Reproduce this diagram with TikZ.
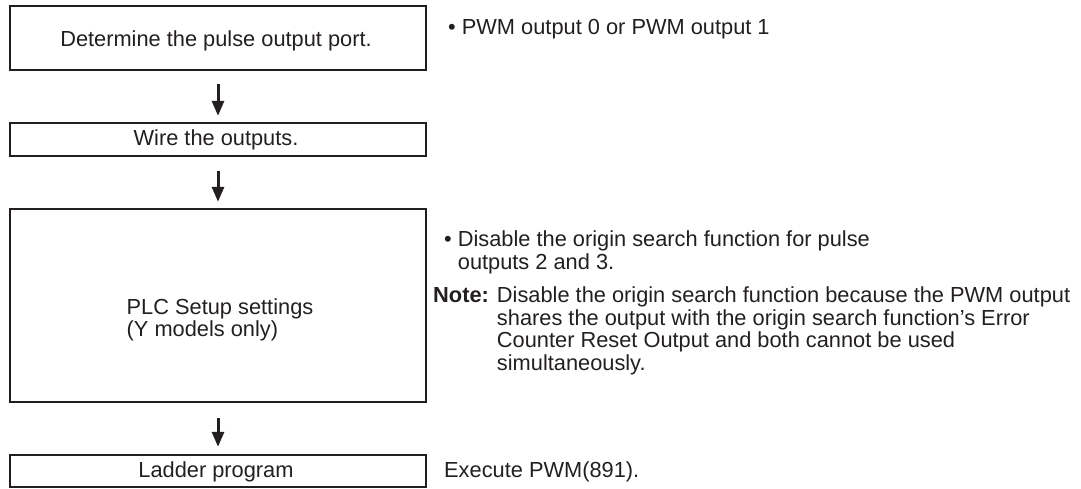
\documentclass[tikz,border=0pt]{standalone}
\usepackage{fontspec}
\setmainfont{Liberation Sans}
\usetikzlibrary{arrows.meta}
\definecolor{ink}{HTML}{231F20}
\tikzset{
  stepbox/.style={draw=ink, line width=2.4pt, inner sep=0pt, text=ink},
  flowarrow/.style={draw=ink, line width=3pt, -{Triangle[width=12pt,length=15pt]}},
  note/.style={anchor=north west, align=left, inner sep=0pt, text=ink},
}
\newcommand{\bodyfont}{\fontsize{21.8}{22.5}\selectfont}
\begin{document}
\begin{tikzpicture}[x=1pt,y=-1pt, font=\bodyfont]
\useasboundingbox (0,0) rectangle (1081,489);
% boxes
\node[stepbox, minimum width=416pt, minimum height=64pt] (b1) at (218,38) {};
\node[stepbox, minimum width=416pt, minimum height=33pt] (b2) at (218,139.5) {};
\node[stepbox, minimum width=416pt, minimum height=193pt] (b3) at (218,305.5) {};
\node[stepbox, minimum width=416pt, minimum height=32pt] (b4) at (218,471) {};
% box texts
\node[text=ink, inner sep=0pt] (t1) at (216,40.5) {Determine the pulse output port.};
\node[text=ink, inner sep=0pt] (t2) at (216,140) {Wire the outputs.};
\node[text=ink, inner sep=0pt, align=left] (t3) at (220,320) {PLC Setup settings\\(Y models only)};
\node[text=ink, inner sep=0pt] (t4) at (216,471.5) {Ladder program};
% arrows
\draw[flowarrow] ([yshift=-13pt]b1.south) -- ([yshift=6pt]b2.north);
\draw[flowarrow] ([yshift=-14pt]b2.south) -- ([yshift=6pt]b3.north);
\draw[flowarrow] ([yshift=-15pt]b3.south) -- ([yshift=7pt]b4.north);
% right-hand notes
\node[note] (n1) at (448,19) {\textbullet\ PWM output 0 or PWM output 1};
\node[note] (n2) at (444,231) {\textbullet\ Disable the origin search function for pulse\\\hphantom{\textbullet\ }outputs 2 and 3.};
\node[note] (n3) at (433,287) {\textbf{Note:} Disable the origin search function because the PWM output\\\hphantom{\textbf{Note:} }shares the output with the origin search function's Error\\\hphantom{\textbf{Note:} }Counter Reset Output and both cannot be used\\\hphantom{\textbf{Note:} }simultaneously.};
\node[note] (n4) at (444,461) {Execute PWM(891).};
\end{tikzpicture}
\end{document}
